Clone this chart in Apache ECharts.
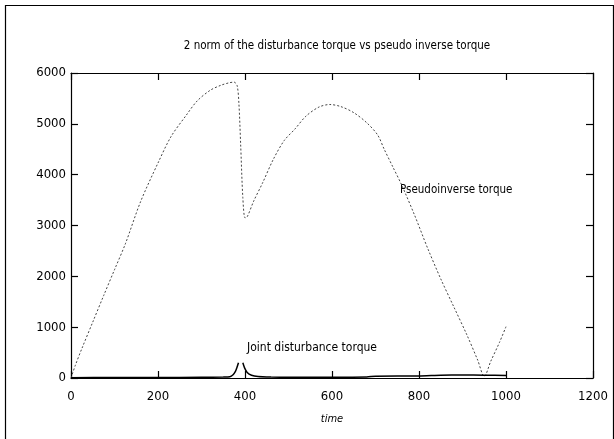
<!DOCTYPE html>
<html>
<head>
<meta charset="utf-8">
<script src="https://cdn.jsdelivr.net/npm/echarts@6/dist/echarts.min.js"></script>
<style>
  html, body { margin: 0; padding: 0; background: #fff; }
  #chart { width: 614px; height: 439px; }
</style>
</head>
<body>
<div id="chart"></div>
<script>
// values
const pseudoTime = [0, 10, 25, 50, 75, 100, 125, 160, 200, 230, 265, 290, 320, 345, 365, 375, 382, 386, 390, 395, 400, 405, 420, 440, 465, 490, 515, 540, 570, 595, 620, 650, 680, 705, 720, 740, 760, 790, 820, 850, 880, 910, 935, 950, 965, 985, 1000];
const pseudoTorque = [0, 250, 580, 1100, 1620, 2130, 2640, 3470, 4230, 4750, 5170, 5450, 5660, 5760, 5810, 5820, 5750, 5400, 4600, 3550, 3150, 3170, 3480, 3830, 4300, 4670, 4900, 5150, 5330, 5380, 5340, 5220, 5020, 4780, 4500, 4150, 3800, 3200, 2550, 1950, 1400, 850, 350, 30, 330, 700, 1010];

const jointTime = [0, 100, 200, 300, 350, 365, 372, 378, 382, 385, 390, 395, 399, 405, 415, 430, 460, 500, 600, 680, 700, 800, 850, 900, 950, 1000];
const jointTorque = [5, 10, 10, 15, 20, 25, 60, 130, 220, 300, null, 300, 200, 110, 55, 30, 20, 15, 15, 20, 35, 40, 55, 60, 55, 50];

const xTicks = [0, 200, 400, 600, 800, 1000, 1200];
const yTicks = [0, 1000, 2000, 3000, 4000, 5000, 6000];

const titleText = '2 norm of the disturbance torque vs pseudo inverse torque';
const pseudoLabel = 'Pseudoinverse torque';
const jointLabel = 'Joint disturbance torque';

const font = '"Liberation Sans Narrow", "DejaVu Sans Condensed", "Liberation Sans", sans-serif';

const chart = echarts.init(document.getElementById('chart'), null, { renderer: 'canvas' });

const zip = (xs, ys) => xs.map((x, i) => [x, ys[i]]);
const plain = v => String(v);

const axisCommon = {
  type: 'value',
  axisLine: { show: true, onZero: false, lineStyle: { color: '#000', width: 1.2 } },
  axisTick: { show: true, inside: true, length: 7, lineStyle: { color: '#000', width: 1.2 } },
  splitLine: { show: false }
};

const option = {
  animation: false,
  backgroundColor: '#fff',
  title: {
    text: titleText,
    left: 332,
    textAlign: 'center',
    top: 35,
    textStyle: { fontFamily: font, fontSize: 11.5, fontWeight: 'normal', color: '#000' }
  },
  grid: { left: 71, right: 21, top: 73, bottom: 61, containLabel: false },
  xAxis: [
    Object.assign({}, axisCommon, {
      position: 'bottom',
      min: xTicks[0], max: xTicks[xTicks.length - 1], interval: 200,
      name: 'time',
      nameLocation: 'middle',
      nameGap: 36,
      nameTextStyle: { fontFamily: font, fontSize: 11, fontStyle: 'italic', color: '#000' },
      axisLabel: { margin: 12, fontFamily: font, fontSize: 13, color: '#000', formatter: plain }
    }),
    Object.assign({}, axisCommon, {
      position: 'top',
      min: xTicks[0], max: xTicks[xTicks.length - 1], interval: 200,
      axisLabel: { show: false }
    })
  ],
  yAxis: [
    Object.assign({}, axisCommon, {
      position: 'left',
      min: yTicks[0], max: yTicks[yTicks.length - 1], interval: 1000,
      axisLabel: { margin: 5, fontFamily: font, fontSize: 13, color: '#000', formatter: plain }
    }),
    Object.assign({}, axisCommon, {
      position: 'right',
      min: yTicks[0], max: yTicks[yTicks.length - 1], interval: 1000,
      axisLabel: { show: false }
    })
  ],
  series: [
    {
      name: pseudoLabel,
      type: 'line',
      data: zip(pseudoTime, pseudoTorque),
      showSymbol: false,
      smooth: 0.3,
      lineStyle: { color: '#444', width: 1, type: [2, 2] }
    },
    {
      name: jointLabel,
      type: 'line',
      data: zip(jointTime, jointTorque),
      showSymbol: false,
      connectNulls: false,
      smooth: 0.2,
      lineStyle: { color: '#000', width: 1.5 }
    }
  ],
  graphic: [
    {
      type: 'rect',
      shape: { x: 5.5, y: 5.5, width: 608, height: 440 },
      style: { fill: null, stroke: '#000', lineWidth: 1.2 },
      silent: true
    },
    {
      type: 'text',
      left: 400, top: 184,
      style: { text: pseudoLabel, font: '11.5px ' + font, fill: '#000' }
    },
    {
      type: 'text',
      left: 247, top: 342,
      style: { text: jointLabel, font: '12px ' + font, fill: '#000' }
    }
  ]
};

chart.setOption(option);
</script>
</body>
</html>
